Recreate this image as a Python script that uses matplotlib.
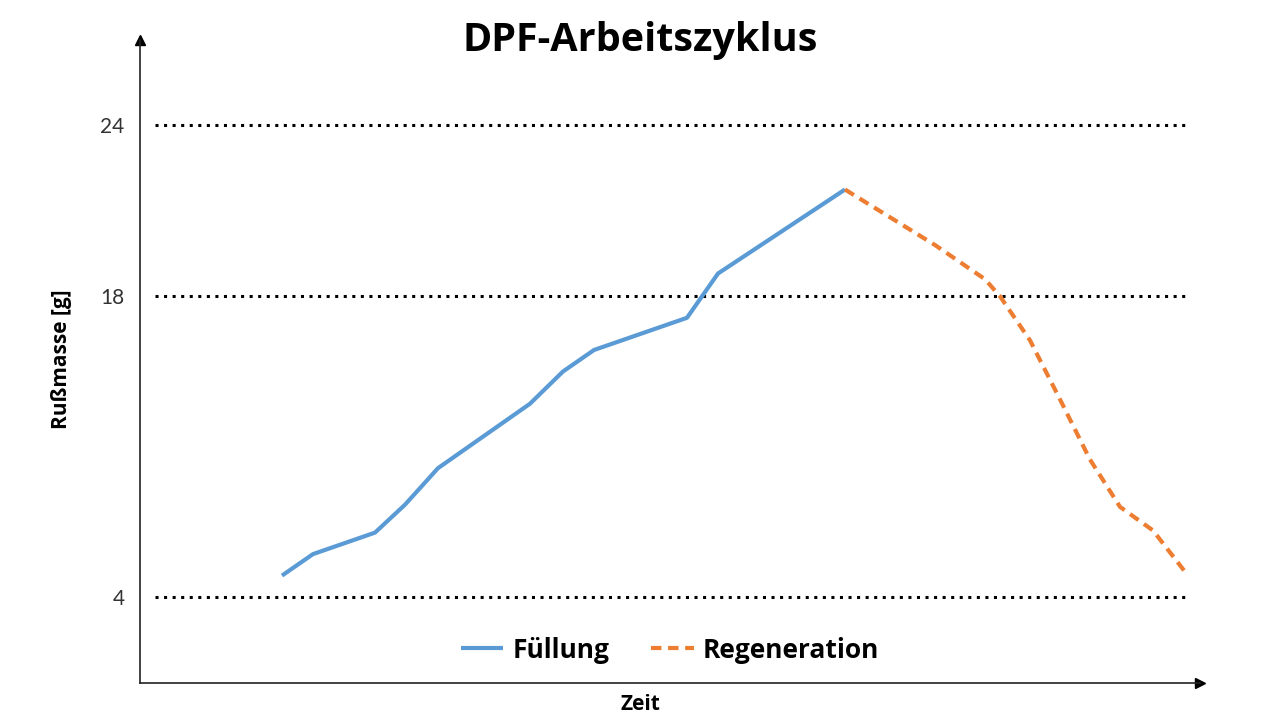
import numpy as np
import matplotlib
matplotlib.use("Agg")
import matplotlib.pyplot as plt

# Zeit (arbitrary units) and soot mass in g
zeit_fuellung = [14.2, 17.3, 23.5, 26.5, 29.8, 39.0, 42.3, 45.4, 54.7, 57.8, 70.5]
masse_fuellung = [5.0, 6.0, 7.0, 8.3, 10.0, 13.0, 14.5, 15.5, 17.0, 18.8, 21.75]

zeit_regen = [70.5, 79.5, 84.5, 86.0, 89.0, 92.0, 95.0, 98.0, 101.3, 104.8]
masse_regen = [21.75, 19.8, 18.6, 18.0, 15.95, 13.2, 10.4, 8.2, 7.1, 5.0]

grenzen = [4, 18, 24]
tick_labels = ["4", "18", "24"]

# the original axis is not linear: piecewise mapping between the marked levels
G = [0, 4, 18, 24, 27]
P = [0, 86, 387, 558, 643.5]


def fwd(v):
    return np.interp(v, G, P)


def inv(v):
    return np.interp(v, P, G)


fig = plt.figure(figsize=(12.8, 7.2), dpi=100)
ax = fig.add_axes([140 / 1280, 1 - 683 / 720, 1060 / 1280, 643 / 720])
ax.set_yscale("function", functions=(fwd, inv))
ax.set_xlim(0, 106)
ax.set_ylim(0, 27)

for g in grenzen:
    ax.axhline(g, xmin=0.014, xmax=0.99, color="black", lw=2.2,
               dashes=(1, 1.8), dash_capstyle="butt", zorder=1)

ax.plot(zeit_fuellung, masse_fuellung, color="#5B9BD5", lw=3, label="Füllung",
        solid_capstyle="butt", zorder=3)
ax.plot(zeit_regen, masse_regen, color="#ED7D31", lw=3, dashes=(2.5, 1.6),
        label="Regeneration", zorder=3)

for s in ["top", "right"]:
    ax.spines[s].set_visible(False)
for s in ["left", "bottom"]:
    ax.spines[s].set_color("#222222")
    ax.spines[s].set_linewidth(1.2)
ax.plot(0, 1, marker="^", color="black", ms=7, transform=ax.transAxes, clip_on=False)
ax.plot(1, 0, marker=">", color="black", ms=7, transform=ax.transAxes, clip_on=False)

ax.set_xticks([])
ax.set_yticks(grenzen)
ax.set_yticklabels(tick_labels, fontsize=15, family="Lato", color="#333333")
ax.yaxis.set_minor_locator(matplotlib.ticker.NullLocator())
ax.tick_params(axis="y", length=0, pad=11)

fig.text(62 / 1280, 1 - 359 / 720, "Rußmasse [g]", rotation=90, ha="center", va="center",
         fontsize=15, fontweight="bold", family="Open Sans")
fig.text(640 / 1280, 1 - 705 / 720, "Zeit", ha="center", va="center",
         fontsize=15, fontweight="bold", family="Open Sans")

ax.legend(loc="center", bbox_to_anchor=((670 - 140) / 1060, (683 - 650) / 643), ncol=2,
          frameon=False, prop={"family": "Open Sans", "weight": "bold", "size": 19},
          handlelength=1.6, columnspacing=1.6, handletextpad=0.35)

fig.text(0.5, 1 - 40 / 720, "DPF-Arbeitszyklus", ha="center", va="center",
         fontsize=28.5, fontweight="bold", family="Open Sans")

fig.savefig("out.png", dpi=100)
